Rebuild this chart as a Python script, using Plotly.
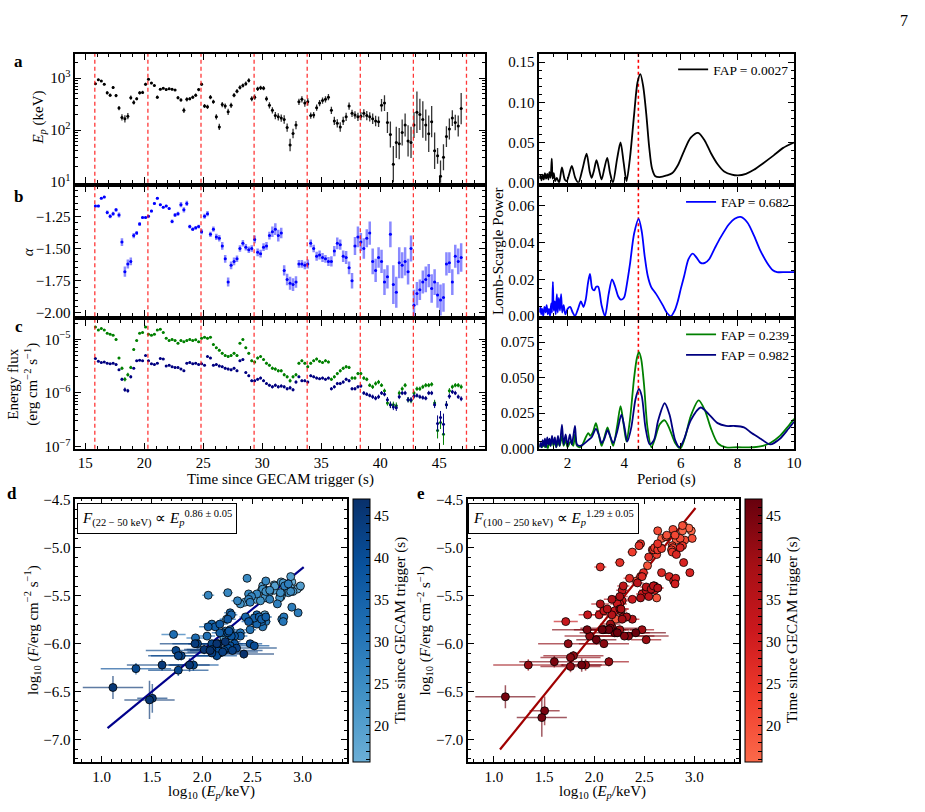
import numpy as np
import plotly.graph_objects as go
from plotly.colors import sample_colorscale

W, H = 925, 812
FONT = "Liberation Serif, Times New Roman, serif"

# ------------------------------------------------------------------ data
time_s = [
    15.85, 16.10, 16.35, 16.60, 16.85, 17.10, 17.35, 17.60,
    17.85, 18.10, 18.35, 18.60, 18.85, 19.10, 19.35, 19.60,
    19.85, 20.10, 20.35, 20.60, 20.85, 21.10, 21.35, 21.60,
    21.85, 22.10, 22.35, 22.60, 22.85, 23.10, 23.35, 23.60,
    23.85, 24.10, 24.35, 24.60, 24.85, 25.10, 25.35, 25.60,
    25.85, 26.10, 26.35, 26.60, 26.85, 27.10, 27.35, 27.60,
    27.85, 28.10, 28.35, 28.60, 28.85, 29.10, 29.35, 29.60,
    29.85, 30.10, 30.35, 30.60, 30.85, 31.10, 31.35, 31.60,
    31.85, 32.10, 32.35, 32.60, 32.85, 33.10, 33.35, 33.60,
    33.85, 34.10, 34.35, 34.60, 34.85, 35.10, 35.35, 35.60,
    35.85, 36.10, 36.35, 36.60, 36.85, 37.10, 37.35, 37.60,
    37.85, 38.10, 38.35, 38.60, 38.85, 39.10, 39.35, 39.60,
    39.85, 40.10, 40.35, 40.60, 40.85, 41.10, 41.35, 41.60,
    41.85, 42.10, 42.35, 42.60, 42.85, 43.10, 43.35, 43.60,
    43.85, 44.10, 44.35, 44.60, 44.85, 45.10, 45.35, 45.60,
    45.85, 46.10, 46.35, 46.60, 46.85]

ep_kev = [
    780, 930, 880, 760, 520, 470, 660, 460,
    265, 175, 165, 185, 420, 340, 400, 520,
    530, 760, 950, 800, 720, 430, 610, 640,
    600, 620, 610, 590, 420, 380, 240, 390,
    400, 430, 470, 600, 760, 290, 280, 430,
    350, 180, 115, 310, 290, 225, 300, 470,
    560, 660, 720, 780, 900, 400, 430, 620,
    650, 640, 400, 300, 240, 190, 180, 170,
    160, 112, 52, 86, 125, 350, 390, 330,
    350, 190, 195, 270, 330, 370, 390, 430,
    240, 150, 135, 115, 150, 180, 290, 210,
    195, 180, 185, 210, 190, 180, 165, 150,
    145, 300, 330, 140, 82, 22, 58, 55,
    90, 125, 62, 58, 125, 220, 200, 160,
    125, 85, 145, 40, 32, 13, 30, 75,
    105, 170, 140, 120, 260]

ep_err_dex = [
    0.02, 0.02, 0.02, 0.02, 0.03, 0.03, 0.03, 0.03,
    0.04, 0.06, 0.07, 0.06, 0.04, 0.04, 0.03, 0.03,
    0.03, 0.03, 0.02, 0.02, 0.02, 0.03, 0.02, 0.02,
    0.02, 0.02, 0.02, 0.02, 0.03, 0.03, 0.05, 0.04,
    0.03, 0.03, 0.03, 0.03, 0.03, 0.04, 0.04, 0.04,
    0.04, 0.05, 0.06, 0.05, 0.05, 0.06, 0.05, 0.04,
    0.04, 0.04, 0.04, 0.04, 0.04, 0.05, 0.05, 0.04,
    0.04, 0.04, 0.05, 0.06, 0.06, 0.07, 0.07, 0.07,
    0.08, 0.08, 0.12, 0.09, 0.08, 0.06, 0.06, 0.07,
    0.07, 0.06, 0.06, 0.06, 0.06, 0.06, 0.06, 0.06,
    0.07, 0.08, 0.08, 0.09, 0.08, 0.08, 0.07, 0.07,
    0.07, 0.08, 0.08, 0.08, 0.09, 0.09, 0.10, 0.10,
    0.10, 0.12, 0.15, 0.20, 0.25, 0.35, 0.30, 0.30,
    0.25, 0.22, 0.30, 0.30, 0.25, 0.40, 0.30, 0.35,
    0.30, 0.35, 0.30, 0.35, 0.15, 0.30, 0.25, 0.20,
    0.20, 0.15, 0.15, 0.20, 0.30]

alpha_idx = [
    -1.17, -1.17, -1.11, -1.10, -1.22, -1.25, -1.23, -1.20,
    -1.24, -1.45, -1.68, -1.62, -1.60, -1.40, -1.38, -1.31,
    -1.26, -1.26, -1.25, -1.21, -1.15, -1.11, -1.16, -1.18,
    -1.17, -1.19, -1.29, -1.24, -1.23, -1.16, -1.20, -1.15,
    -1.33, -1.35, -1.34, -1.33, -1.37, -1.25, -1.23, -1.39,
    -1.35, -1.41, -1.42, -1.48, -1.58, -1.76, -1.63, -1.60,
    -1.58, -1.50, -1.46, -1.49, -1.51, -1.50, -1.43, -1.53,
    -1.54, -1.49, -1.48, -1.40, -1.37, -1.35, -1.40, -1.38,
    -1.67, -1.74, -1.77, -1.78, -1.76, -1.62, -1.62, -1.63,
    -1.62, -1.46, -1.50, -1.56, -1.55, -1.57, -1.58, -1.60,
    -1.60, -1.52, -1.46, -1.47, -1.56, -1.57, -1.65, -1.75,
    -1.48, -1.41, -1.45, -1.50, -1.42, -1.38, -1.60, -1.67,
    -1.57, -1.60, -1.76, -1.72, -1.39, -1.78, -1.84, -1.61,
    -1.63, -1.60, -1.68, -1.50, -1.94, -1.85, -1.82, -1.76,
    -1.74, -1.71, -1.81, -1.76, -1.86, -1.90, -1.88, -1.62,
    -1.61, -1.76, -1.56, -1.60, -1.57]

alpha_err = [
    0.01, 0.01, 0.01, 0.01, 0.015, 0.015, 0.015, 0.015,
    0.02, 0.03, 0.04, 0.035, 0.03, 0.02, 0.015, 0.015,
    0.01, 0.01, 0.01, 0.01, 0.01, 0.01, 0.01, 0.01,
    0.01, 0.01, 0.015, 0.015, 0.015, 0.02, 0.02, 0.02,
    0.015, 0.015, 0.015, 0.015, 0.02, 0.02, 0.02, 0.02,
    0.02, 0.025, 0.025, 0.03, 0.03, 0.035, 0.03, 0.03,
    0.025, 0.025, 0.025, 0.025, 0.025, 0.025, 0.03, 0.03,
    0.03, 0.03, 0.03, 0.03, 0.04, 0.045, 0.045, 0.04,
    0.04, 0.045, 0.05, 0.05, 0.045, 0.03, 0.03, 0.03,
    0.035, 0.03, 0.03, 0.035, 0.035, 0.035, 0.03, 0.035,
    0.04, 0.04, 0.045, 0.04, 0.045, 0.05, 0.05, 0.06,
    0.07, 0.08, 0.07, 0.08, 0.07, 0.09, 0.10, 0.09,
    0.08, 0.09, 0.10, 0.09, 0.10, 0.15, 0.12, 0.12,
    0.10, 0.11, 0.10, 0.10, 0.12, 0.09, 0.08, 0.09,
    0.10, 0.09, 0.11, 0.10, 0.10, 0.12, 0.11, 0.09,
    0.08, 0.10, 0.09, 0.10, 0.11]

# energy flux, units of 1e-6 erg cm^-2 s^-1
flux_100_250 = [
    17, 15, 16, 15, 13, 12.5, 12, 10,
    4.5, 2.9, 1.8, 2.2, 3.0, 6.5, 9.5, 13,
    13.5, 17, 12.5, 12, 12.5, 15, 15.5, 13.5,
    10.5, 9.5, 10, 9.5, 8.5, 9.5, 9.0, 9.5,
    10, 9.5, 9.8, 9.0, 10.5, 11, 10.5, 11,
    8.0, 7.0, 6.3, 5.5, 5.0, 4.8, 5.0, 5.5,
    5.0, 8.5, 10, 7.0, 5.5, 4.0, 3.8, 4.5,
    4.8, 4.2, 3.6, 3.3, 2.9, 2.8, 2.6, 2.6,
    2.2, 2.0, 1.7, 2.0, 2.2, 3.6, 4.0, 3.6,
    3.1, 3.6, 4.0, 4.3, 3.9, 3.7, 4.0, 3.8,
    1.8, 2.0, 2.3, 2.6, 2.9, 3.1, 3.0, 1.9,
    1.9, 2.3, 2.3, 1.9, 1.8, 1.4, 1.3, 1.5,
    1.6, 1.4, 1.1, 0.65, 0.6, 0.6, 0.58, 1.0,
    1.2, 1.4, 0.75, 0.72, 1.0, 1.2, 1.2, 1.3,
    1.4, 1.4, 1.45, 0.65, 0.2, 0.28, 0.17, 0.6,
    1.1, 1.3, 1.4, 1.4, 1.3]

flux_22_50 = [
    4.4, 3.9, 3.7, 3.8, 3.6, 3.5, 3.6, 3.4,
    2.7, 1.8, 1.15, 1.1, 2.0, 2.9, 4.0, 4.1,
    4.0, 5.0, 4.0, 3.5, 3.4, 3.6, 4.4, 4.3,
    3.2, 3.3, 3.1, 3.0, 3.0, 2.8, 2.6, 3.6,
    3.7, 3.5, 3.6, 3.4, 3.5, 3.3, 4.8, 4.5,
    3.3, 3.4, 3.2, 3.1, 2.9, 2.8, 2.7, 2.9,
    2.6, 4.0, 4.2, 2.4, 2.1, 1.7, 1.7, 1.8,
    1.9, 1.7, 1.5, 1.4, 1.3, 1.4, 1.3, 1.35,
    1.3, 1.2, 1.25, 1.15, 1.6, 2.0, 1.7, 1.7,
    1.6, 2.1, 2.0, 1.9, 1.85, 1.9, 1.8, 1.9,
    1.2, 1.3, 1.5, 1.5, 1.6, 1.8, 1.7, 1.2,
    1.2, 1.3, 1.35, 1.0, 0.95, 0.9, 0.85, 0.8,
    0.85, 1.0, 0.95, 0.75, 0.6, 0.55, 0.53, 0.85,
    1.0, 1.0, 0.75, 0.75, 0.87, 0.9, 0.85, 0.82,
    0.8, 1.0, 1.0, 0.6, 0.27, 0.35, 0.26, 0.6,
    0.87, 1.05, 1.0, 0.85, 0.78]

flux_err_dex = [
    0.015, 0.015, 0.015, 0.015, 0.015, 0.015, 0.015, 0.02,
    0.02, 0.03, 0.04, 0.035, 0.03, 0.02, 0.015, 0.015,
    0.015, 0.015, 0.015, 0.015, 0.015, 0.015, 0.015, 0.015,
    0.015, 0.02, 0.02, 0.02, 0.02, 0.02, 0.02, 0.02,
    0.02, 0.02, 0.02, 0.02, 0.02, 0.02, 0.02, 0.02,
    0.02, 0.02, 0.025, 0.025, 0.025, 0.025, 0.025, 0.025,
    0.025, 0.02, 0.02, 0.02, 0.025, 0.025, 0.025, 0.025,
    0.025, 0.025, 0.025, 0.025, 0.03, 0.03, 0.03, 0.03,
    0.03, 0.03, 0.035, 0.03, 0.03, 0.025, 0.025, 0.025,
    0.025, 0.025, 0.025, 0.025, 0.025, 0.025, 0.025, 0.025,
    0.03, 0.03, 0.03, 0.03, 0.03, 0.03, 0.03, 0.03,
    0.03, 0.03, 0.03, 0.035, 0.035, 0.035, 0.04, 0.04,
    0.04, 0.035, 0.04, 0.05, 0.06, 0.06, 0.06, 0.045,
    0.04, 0.04, 0.05, 0.05, 0.045, 0.04, 0.04, 0.04,
    0.04, 0.04, 0.04, 0.06, 0.15, 0.12, 0.20, 0.07,
    0.05, 0.04, 0.04, 0.04, 0.045]

time_bin_half = 0.1
qpo_marks_s = [15.8, 20.3, 24.8, 29.3, 33.8, 38.3, 42.8, 47.3]
qpo_period_s = 4.5

# Lomb-Scargle periodograms (period in s, power)
per_ep = [1.00, 1.04, 1.08, 1.12, 1.16, 1.20, 1.24, 1.28, 1.32, 1.36, 1.40, 1.44, 1.47, 1.51,
          1.56, 1.62, 1.70, 1.80, 1.90, 1.97, 2.05, 2.15, 2.27, 2.38, 2.52, 2.67, 2.78, 2.85,
          2.93, 3.02, 3.11, 3.20, 3.30, 3.40, 3.50, 3.60, 3.75, 3.87, 3.98, 4.08, 4.20, 4.35,
          4.47, 4.57, 4.67, 4.78, 4.88, 4.98, 5.10, 5.25, 5.50, 5.70, 5.90, 6.12, 6.35, 6.61,
          6.85, 7.06, 7.30, 7.53, 7.80, 8.02, 8.30, 8.58, 8.90, 9.28, 9.60, 10.0]
pow_ep = [0.005, 0.009, 0.003, 0.010, 0.004, 0.012, 0.005, 0.011, 0.004, 0.013, 0.006, 0.030, 0.005, 0.012,
          0.002, 0.006, 0.000, 0.019, 0.004, 0.002, 0.010, 0.021, 0.006, 0.000, 0.016, 0.036, 0.014, 0.006,
          0.015, 0.028, 0.016, 0.004, 0.018, 0.031, 0.012, 0.000, 0.030, 0.050, 0.025, 0.002, 0.030, 0.085,
          0.125, 0.135, 0.120, 0.085, 0.045, 0.018, 0.008, 0.007, 0.009, 0.012, 0.022, 0.040, 0.056, 0.062,
          0.052, 0.037, 0.023, 0.014, 0.010, 0.009, 0.011, 0.016, 0.024, 0.034, 0.043, 0.050]

per_alpha = [1.00, 1.04, 1.07, 1.10, 1.14, 1.18, 1.22, 1.26, 1.30, 1.34, 1.38, 1.42, 1.45, 1.48, 1.51,
             1.55, 1.58, 1.62, 1.65, 1.69, 1.73, 1.77, 1.81, 1.86, 1.92, 2.00, 2.09, 2.18, 2.26, 2.37,
             2.47, 2.56, 2.64, 2.72, 2.79, 2.87, 2.94, 3.01, 3.08, 3.20, 3.32, 3.45, 3.57, 3.68, 3.78,
             3.88, 3.99, 4.10, 4.20, 4.35, 4.51, 4.62, 4.72, 4.83, 4.95, 5.13, 5.36, 5.50, 5.65, 5.78,
             5.89, 6.00, 6.12, 6.27, 6.42, 6.55, 6.70, 6.85, 7.00, 7.20, 7.41, 7.70, 7.90, 8.11, 8.35,
             8.58, 8.80, 9.05, 9.25, 9.40, 9.70, 10.0]
pow_alpha = [0.002, 0.005, 0.001, 0.004, 0.000, 0.005, 0.002, 0.006, 0.001, 0.004, 0.000, 0.007, 0.002, 0.0187, 0.003,
             0.008, 0.001, 0.012, 0.002, 0.010, 0.003, 0.012, 0.002, 0.006, 0.001, 0.004, 0.005, 0.002, 0.000, 0.004,
             0.008, 0.005, 0.009, 0.018, 0.023, 0.015, 0.014, 0.016, 0.016, 0.006, 0.000, 0.012, 0.020, 0.016, 0.011,
             0.009, 0.010, 0.018, 0.028, 0.045, 0.053, 0.046, 0.033, 0.022, 0.016, 0.012, 0.006, 0.002, 0.000, 0.003,
             0.008, 0.015, 0.022, 0.031, 0.034, 0.032, 0.029, 0.029, 0.031, 0.037, 0.043, 0.050, 0.053, 0.054, 0.051,
             0.044, 0.036, 0.029, 0.025, 0.024, 0.024, 0.024]

per_fhi = [1.00, 1.05, 1.10, 1.15, 1.20, 1.25, 1.30, 1.35, 1.40, 1.45, 1.50, 1.55, 1.60, 1.66, 1.72,
           1.80, 1.86, 1.93, 2.00, 2.10, 2.20, 2.26, 2.33, 2.42, 2.50, 2.62, 2.73, 2.80, 2.90, 3.00,
           3.10, 3.20, 3.30, 3.41, 3.50, 3.61, 3.75, 3.87, 3.98, 4.08, 4.20, 4.35, 4.45, 4.52, 4.60,
           4.70, 4.82, 4.96, 5.10, 5.25, 5.43, 5.60, 5.80, 5.98, 6.15, 6.35, 6.63, 6.85, 7.05, 7.30,
           7.60, 8.00, 8.58, 8.90, 9.16, 9.50, 9.80, 10.0]
pow_fhi = [0.001, 0.003, 0.001, 0.004, 0.001, 0.003, 0.000, 0.005, 0.002, 0.008, 0.002, 0.006, 0.001, 0.005, 0.002,
           0.009, 0.002, 0.006, 0.001, 0.005, 0.002, 0.010, 0.002, 0.001, 0.002, 0.007, 0.011, 0.009, 0.012, 0.018,
           0.010, 0.002, 0.008, 0.015, 0.009, 0.002, 0.016, 0.030, 0.017, 0.005, 0.020, 0.050, 0.064, 0.068, 0.063,
           0.045, 0.015, 0.001, 0.008, 0.017, 0.020, 0.014, 0.004, 0.000, 0.008, 0.023, 0.034, 0.027, 0.015, 0.004,
           0.001, 0.001, 0.001, 0.002, 0.004, 0.009, 0.016, 0.021]

per_flo = [1.00, 1.04, 1.08, 1.12, 1.16, 1.20, 1.24, 1.28, 1.32, 1.36, 1.40, 1.45, 1.50, 1.55, 1.60,
           1.66, 1.72, 1.80, 1.86, 1.93, 2.00, 2.08, 2.15, 2.26, 2.33, 2.43, 2.55, 2.73, 2.85, 3.00,
           3.10, 3.20, 3.30, 3.41, 3.50, 3.61, 3.75, 3.90, 4.00, 4.11, 4.25, 4.40, 4.52, 4.62, 4.75,
           4.90, 5.05, 5.20, 5.43, 5.60, 5.80, 5.95, 6.10, 6.35, 6.70, 7.00, 7.30, 7.60, 7.88, 8.23,
           8.50, 8.82, 9.16, 9.50, 9.80, 10.0]
pow_flo = [0.001, 0.004, 0.001, 0.006, 0.002, 0.007, 0.001, 0.008, 0.003, 0.007, 0.002, 0.009, 0.003, 0.008, 0.001,
           0.009, 0.002, 0.017, 0.003, 0.010, 0.002, 0.010, 0.003, 0.016, 0.003, 0.002, 0.003, 0.006, 0.008, 0.014,
           0.010, 0.004, 0.007, 0.013, 0.009, 0.004, 0.012, 0.024, 0.016, 0.005, 0.015, 0.035, 0.042, 0.037, 0.015,
           0.003, 0.006, 0.020, 0.032, 0.024, 0.006, 0.001, 0.006, 0.020, 0.029, 0.024, 0.018, 0.016, 0.016, 0.015,
           0.011, 0.007, 0.003, 0.007, 0.014, 0.019]

fap_ep, fap_alpha, fap_fhi, fap_flo = "0.0027", "0.682", "0.239", "0.982"

# power-law fits  log F = slope * log Ep + intercept
fit_d = (0.86, -7.79)
fit_e = (1.29, -8.47)
fit_span = [1.06, 3.01]

cbar_range = [15.73, 46.98]
cbar_major = [20, 25, 30, 35, 40, 45]
cbar_ticks = [16, 17, 18, 19, 20, 21, 22, 23, 24, 25, 26, 27, 28, 29, 30, 31, 32, 33, 34, 35, 36,
              37, 38, 39, 40, 41, 42, 43, 44, 45, 46]
blues_cs = [[0, '#6baed6'], [0.25, '#4292c6'], [0.5, '#2171b5'], [0.75, '#08519c'], [1, '#08306b']]
reds_cs = [[0, '#fb6a4a'], [0.25, '#ef3b2c'], [0.5, '#cb181d'], [0.75, '#a50f15'], [1, '#67000d']]

# log-axis tick positions
ep_major = [10, 100, 1000]
ep_minor = [20, 30, 40, 50, 60, 70, 80, 90, 200, 300, 400, 500, 600, 700, 800, 900, 2000]
flux_major = [1e-7, 1e-6, 1e-5]
flux_minor = [2e-7, 3e-7, 4e-7, 5e-7, 6e-7, 7e-7, 8e-7, 9e-7, 2e-6, 3e-6, 4e-6, 5e-6, 6e-6,
              7e-6, 8e-6, 9e-6, 2e-5]

for nm, arr in [("ep", ep_kev), ("eperr", ep_err_dex), ("al", alpha_idx), ("alerr", alpha_err),
                ("fhi", flux_100_250), ("flo", flux_22_50), ("ferr", flux_err_dex)]:
    assert len(arr) == len(time_s), (nm, len(arr))
assert len(per_ep) == len(pow_ep) and len(per_alpha) == len(pow_alpha)
assert len(per_fhi) == len(pow_fhi) and len(per_flo) == len(pow_flo)

# ------------------------------------------------------------------ derived
t = np.array(time_s)
ep = np.array(ep_kev, float)
epd = np.array(ep_err_dex)
ep_hi = ep * (10 ** epd - 1)
ep_lo = ep * (1 - 10 ** (-epd))
fhi = np.array(flux_100_250) * 1e-6
flo = np.array(flux_22_50) * 1e-6
fd = np.array(flux_err_dex)

def px_x(x0, x1):
    return [x0 / W, x1 / W]

def px_y(y0, y1):
    return [1 - y1 / H, 1 - y0 / H]

fig = go.Figure()

ERR_COL = '#333333'
# panel a
fig.add_trace(go.Scatter(
    x=t, y=ep, mode='markers', marker=dict(color='black', size=3), showlegend=False,
    error_y=dict(type='data', symmetric=False, array=ep_hi, arrayminus=ep_lo, color=ERR_COL, thickness=1.3, width=0),
    error_x=dict(type='constant', value=time_bin_half, color=ERR_COL, thickness=1.0, width=0),
    xaxis='x', yaxis='y'))
# panel b
fig.add_trace(go.Scatter(
    x=t, y=alpha_idx, mode='markers', marker=dict(color='#0000ff', size=3), showlegend=False,
    error_y=dict(type='data', array=alpha_err, color='rgba(40,40,255,0.55)', thickness=2.5, width=0),
    error_x=dict(type='constant', value=time_bin_half, color='#0000ff', thickness=1.0, width=0),
    xaxis='x2', yaxis='y2'))
# panel c
for f, col in [(fhi, '#008000'), (flo, '#000080')]:
    fig.add_trace(go.Scatter(
        x=t, y=f, mode='markers', marker=dict(color=col, size=3), showlegend=False,
        error_y=dict(type='data', symmetric=False, array=f * (10 ** fd - 1), arrayminus=f * (1 - 10 ** (-fd)),
                     color=col, thickness=1.0, width=0),
        error_x=dict(type='constant', value=time_bin_half, color=col, thickness=1.0, width=0),
        xaxis='x3', yaxis='y3'))

# periodograms
LW = 1.8
fig.add_trace(go.Scatter(x=per_ep, y=pow_ep, mode='lines', line=dict(color='black', width=LW, shape='spline', smoothing=0.8),
                         name=f"FAP = {fap_ep}", legend='legend', xaxis='x4', yaxis='y4'))
fig.add_trace(go.Scatter(x=per_alpha, y=pow_alpha, mode='lines', line=dict(color='#0000ff', width=LW, shape='spline', smoothing=0.8),
                         name=f"FAP = {fap_alpha}", legend='legend2', xaxis='x5', yaxis='y5'))
fig.add_trace(go.Scatter(x=per_fhi, y=pow_fhi, mode='lines', line=dict(color='#008000', width=LW, shape='spline', smoothing=0.8),
                         name=f"FAP = {fap_fhi}", legend='legend3', xaxis='x6', yaxis='y6'))
fig.add_trace(go.Scatter(x=per_flo, y=pow_flo, mode='lines', line=dict(color='#000080', width=LW, shape='spline', smoothing=0.8),
                         name=f"FAP = {fap_flo}", legend='legend3', xaxis='x6', yaxis='y6'))

# scatter panels
lep = np.log10(ep)
cb_common = dict(thickness=17, thicknessmode='pixels', len=268 / H, lenmode='fraction', xanchor='left',
                 xpad=0, ypad=0, y=1 - 635 / H, yanchor='middle', outlinewidth=1, outlinecolor='black',
                 tickmode='array', tickvals=cbar_ticks,
                 ticktext=[str(v) if v in cbar_major else '' for v in cbar_ticks],
                 ticks='inside', ticklen=4, tickcolor='black',
                 tickfont=dict(family=FONT, size=15, color='black'))
NB = 16
for flux, cs, fit, xa, ya, cbx in [(flo, blues_cs, fit_d, 'x7', 'y7', 356 / W),
                                   (fhi, reds_cs, fit_e, 'x8', 'y8', 751 / W)]:
    lf = np.log10(flux)
    norm = np.clip((t - cbar_range[0]) / (cbar_range[1] - cbar_range[0]), 0, 0.9999)
    bins = np.floor(norm * NB).astype(int)
    for k in range(NB):
        m = bins == k
        if not m.any():
            continue
        c = sample_colorscale(cs, [(k + 0.5) / NB])[0]
        rgb = c[c.index('(') + 1:c.index(')')]
        rgba = f"rgba({rgb},0.65)"
        fig.add_trace(go.Scatter(
            x=lep[m], y=lf[m], mode='markers', marker=dict(size=1, opacity=0), showlegend=False, hoverinfo='skip',
            error_x=dict(type='data', array=epd[m], color=rgba, thickness=1.5, width=0),
            error_y=dict(type='data', array=fd[m], color=rgba, thickness=1.5, width=0),
            xaxis=xa, yaxis=ya))
    fx = np.array(fit_span)
    fig.add_trace(go.Scatter(x=fx, y=fit[0] * fx + fit[1], mode='lines',
                             line=dict(color='#00008b' if cs is blues_cs else '#a00000', width=2.2),
                             showlegend=False, xaxis=xa, yaxis=ya))
    fig.add_trace(go.Scatter(
        x=lep, y=lf, mode='markers', showlegend=False, xaxis=xa, yaxis=ya,
        marker=dict(size=8, color=t, colorscale=cs, cmin=cbar_range[0], cmax=cbar_range[1],
                    line=dict(color='black', width=0.8),
                    colorbar=dict(x=cbx, **cb_common))))

# ------------------------------------------------------------------ axes
MINOR = dict(ticks='inside', ticklen=3, tickwidth=1, tickcolor='black', showgrid=False)

def axis(domain, anchor, dtick=None, minor_dtick=None, minor_vals=None, showlabels=True, **kw):
    d = dict(domain=domain, anchor=anchor, showline=True, linecolor='black', linewidth=1.5,
             mirror='allticks', ticks='inside', ticklen=6, tickwidth=1, tickcolor='black',
             showgrid=False, zeroline=False, showticklabels=showlabels,
             tickfont=dict(family=FONT, size=15, color='black'))
    if dtick is not None:
        d['dtick'] = dtick
    if minor_dtick is not None:
        d['minor'] = dict(dtick=minor_dtick, **MINOR)
    if minor_vals is not None:
        d['minor'] = dict(tickmode='array', tickvals=minor_vals, **MINOR)
    d.update(kw)
    return d

def pow10_label(v):
    e = int(round(np.log10(v)))
    return "10<sup>" + (str(e) if e >= 0 else "−" + str(-e)) + "</sup>"

LX = px_x(76, 489)
RX = px_x(544, 801)
YA = px_y(48, 179)
YB = px_y(183, 315)
YC = px_y(319, 450)
tr = [14.15, 48.85]

layout = dict(
    width=W, height=H, margin=dict(l=0, r=0, t=0, b=0),
    paper_bgcolor='white', plot_bgcolor='white',
    font=dict(family=FONT, size=15, color='black'),
    xaxis=axis(LX, 'y', dtick=5, minor_dtick=1, showlabels=False, range=tr),
    yaxis=axis(YA, 'x', type='log', range=[0.99, 3.46], tickmode='array', tickvals=ep_major,
               ticktext=[pow10_label(v) for v in ep_major], minor_vals=ep_minor),
    xaxis2=axis(LX, 'y2', dtick=5, minor_dtick=1, showlabels=False, range=tr),
    yaxis2=axis(YB, 'x2', range=[-2.025, -1.02], dtick=0.25, tick0=-2.0, minor_dtick=0.05, tickformat='.2f'),
    xaxis3=axis(LX, 'y3', dtick=5, minor_dtick=1, range=tr),
    yaxis3=axis(YC, 'x3', type='log', range=[-7.04, -4.64], tickmode='array', tickvals=flux_major,
                ticktext=[pow10_label(v) for v in flux_major], minor_vals=flux_minor),
    xaxis4=axis(RX, 'y4', dtick=2, minor_dtick=0.5, showlabels=False, range=[1, 10]),
    yaxis4=axis(YA, 'x4', range=[0, 0.16], dtick=0.05, minor_dtick=0.01, tickformat='.2f'),
    xaxis5=axis(RX, 'y5', dtick=2, minor_dtick=0.5, showlabels=False, range=[1, 10]),
    yaxis5=axis(YB, 'x5', range=[0, 0.0705], dtick=0.02, minor_dtick=0.005, tickformat='.2f'),
    xaxis6=axis(RX, 'y6', dtick=2, minor_dtick=0.5, range=[1, 10]),
    yaxis6=axis(YC, 'x6', range=[0, 0.0905], dtick=0.025, minor_dtick=0.005, tickformat='.3f'),
    xaxis7=axis(px_x(76, 350), 'y7', dtick=0.5, tick0=1.0, minor_dtick=0.1, range=[0.74, 3.44], tickformat='.1f'),
    yaxis7=axis(px_y(501, 769), 'x7', dtick=0.5, tick0=-7.0, minor_dtick=0.1, range=[-7.23, -4.49], tickformat='.1f'),
    xaxis8=axis(px_x(472, 745), 'y8', dtick=0.5, tick0=1.0, minor_dtick=0.1, range=[0.74, 3.44], tickformat='.1f'),
    yaxis8=axis(px_y(501, 769), 'x8', dtick=0.5, tick0=-7.0, minor_dtick=0.1, range=[-7.23, -4.49], tickformat='.1f'),
)

leg_common = dict(xanchor='left', yanchor='top', bgcolor='rgba(0,0,0,0)', borderwidth=0,
                  font=dict(family=FONT, size=13.5, color='black'), itemwidth=30, tracegroupgap=0)
layout['legend'] = dict(x=679 / W, y=1 - 48 / H, **leg_common)
layout['legend2'] = dict(x=687 / W, y=1 - 183 / H, **leg_common)
layout['legend3'] = dict(x=687 / W, y=1 - 318 / H, **leg_common)
fig.update_layout(**layout)

# reference lines
shapes = []
for yr in ['y', 'y2', 'y3']:
    xr = {'y': 'x', 'y2': 'x2', 'y3': 'x3'}[yr]
    for tq in qpo_marks_s:
        shapes.append(dict(type='line', xref=xr, yref=f'{yr} domain', x0=tq, x1=tq, y0=0, y1=1,
                           line=dict(color='rgba(255,20,20,0.85)', width=1.3, dash='4px,3px'), layer='above'))
for xr, yr in [('x4', 'y4'), ('x5', 'y5'), ('x6', 'y6')]:
    shapes.append(dict(type='line', xref=xr, yref=f'{yr} domain', x0=qpo_period_s, x1=qpo_period_s, y0=0, y1=1,
                       line=dict(color='red', width=1.6, dash='dot'), layer='below'))
fig.update_layout(shapes=shapes)

# ------------------------------------------------------------------ text
def ann(x, y, text, size=15, angle=0, bold=False, **kw):
    if bold:
        text = f"<b>{text}</b>"
    d = dict(x=x / W, y=1 - y / H, xref='paper', yref='paper', text=text, showarrow=False,
             textangle=angle, font=dict(family=FONT, size=size, color='black'),
             xanchor='center', yanchor='middle')
    d.update(kw)
    return d

annotations = [
    ann(912, 14, "7", size=16),
    ann(19, 56, "a", size=17, bold=True),
    ann(19, 193, "b", size=17, bold=True),
    ann(19, 326, "c", size=17, bold=True),
    ann(12, 496, "d", size=17, bold=True),
    ann(425, 496, "e", size=17, bold=True),
    ann(39, 113, "<i>E<sub>p</sub></i> (keV)", angle=-90),
    ann(29, 249, "<i>α</i>", angle=-90),
    ann(24, 384, "Energy flux<br>(erg cm<sup>−2</sup> s<sup>−1</sup>)", angle=-90),
    ann(283, 481, "Time since GECAM trigger (s)"),
    ann(503, 249, "Lomb-Scargle Power", angle=-90),
    ann(672, 481, "Period (s)"),
    ann(33, 635, "log<sub>10</sub> (<i>F</i>/erg cm<sup>−2</sup> s<sup>−1</sup>)", angle=-90),
    ann(429, 635, "log<sub>10</sub> (<i>F</i>/erg cm<sup>−2</sup> s<sup>−1</sup>)", angle=-90),
    ann(213, 800, "log<sub>10</sub> (<i>E<sub>p</sub></i>/keV)"),
    ann(608, 800, "log<sub>10</sub> (<i>E<sub>p</sub></i>/keV)"),
    ann(404, 635, "Time since GECAM trigger (s)", angle=-90),
    ann(799, 635, "Time since GECAM trigger (s)", angle=-90),
    ann(158, 521, "<i>F</i><sub>(22 − 50 keV)</sub> ∝ <i>E<sub>p</sub></i><sup>0.86 ± 0.05</sup>",
        bordercolor='black', borderwidth=1, borderpad=4, bgcolor='white'),
    ann(558, 521, "<i>F</i><sub>(100 − 250 keV)</sub> ∝ <i>E<sub>p</sub></i><sup>1.29 ± 0.05</sup>",
        bordercolor='black', borderwidth=1, borderpad=4, bgcolor='white'),
]
fig.update_layout(annotations=annotations)

fig.write_html("out.html")
